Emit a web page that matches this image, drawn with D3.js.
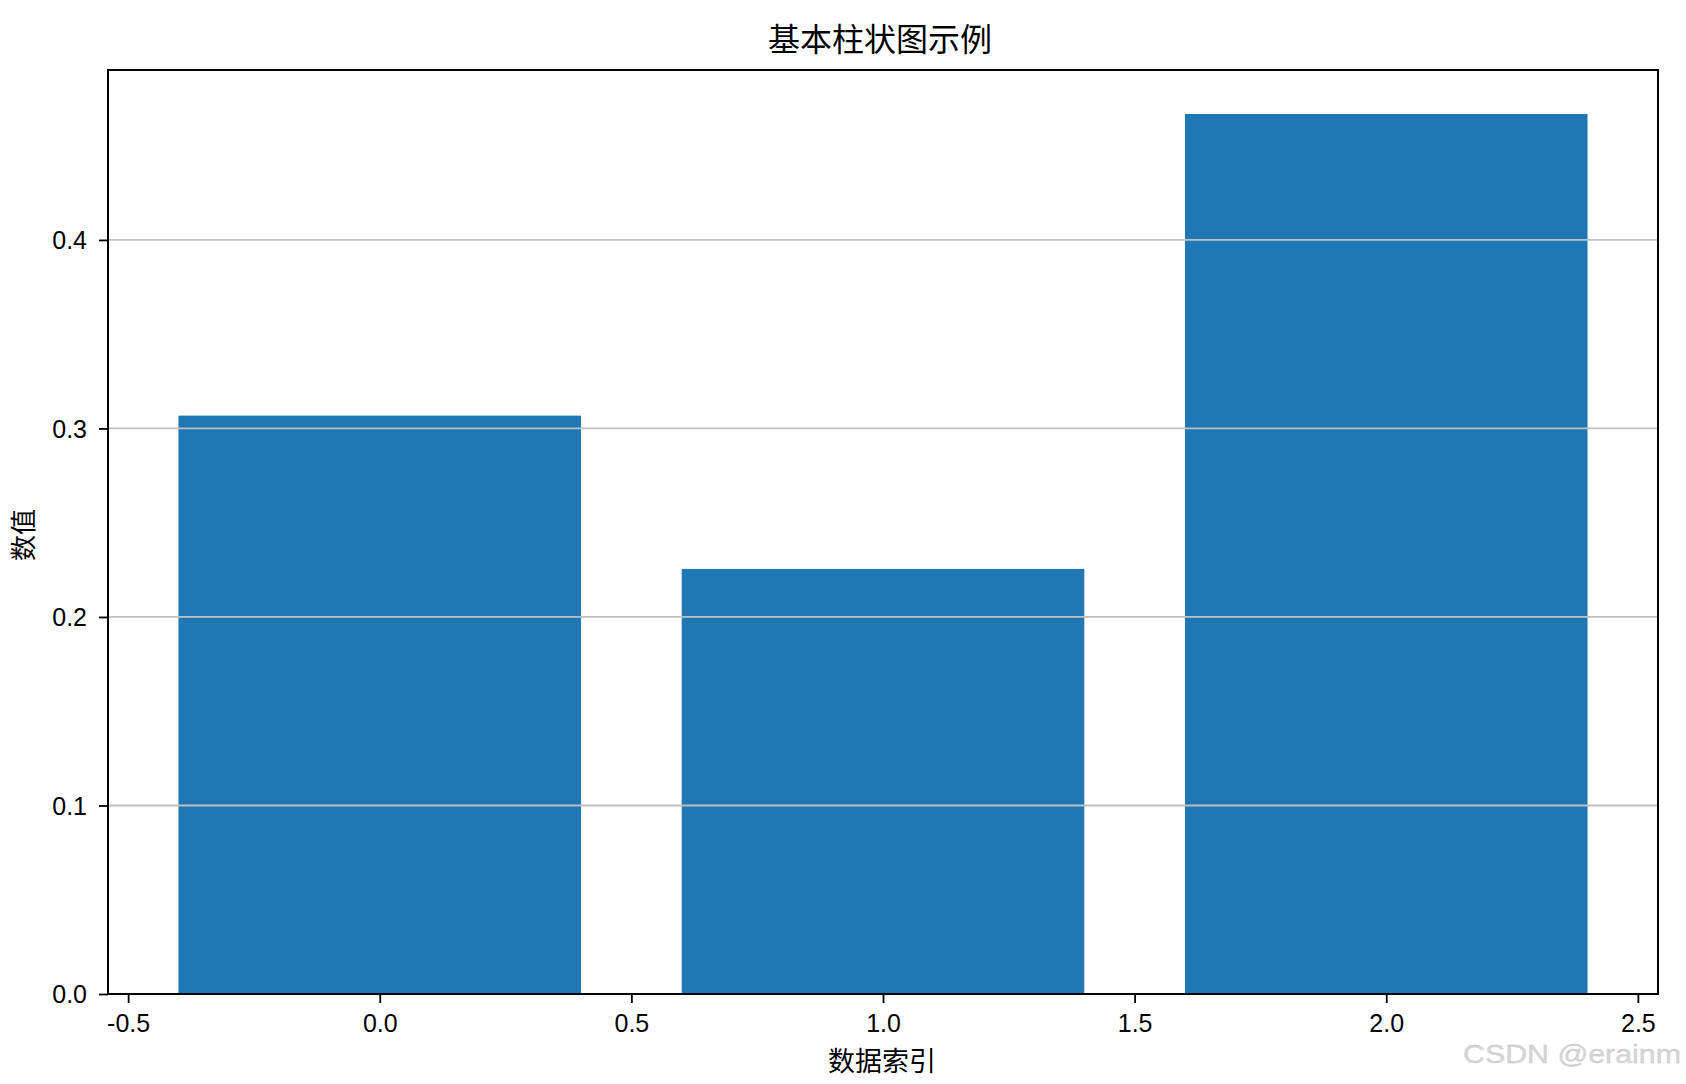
<!DOCTYPE html>
<html>
<head>
<meta charset="utf-8">
<script src="https://cdn.jsdelivr.net/npm/d3@7/dist/d3.min.js"></script>
<style>
  html, body { margin: 0; padding: 0; background: #ffffff; }
  svg { display: block; }
</style>
</head>
<body>
<script>
// ---- data ----
const categories = [0, 1, 2];
const values = [0.3068, 0.2255, 0.4668];
const xTicks = [-0.5, 0.0, 0.5, 1.0, 1.5, 2.0, 2.5];
const yTicks = [0.0, 0.1, 0.2, 0.3, 0.4];
const titleText = "基本柱状图示例";
const xLabel = "数据索引";
const yLabel = "数值";
const watermark = "CSDN @erainm";

(function () {
const W = 1686, H = 1084;
const pLeft = 108, pRight = 1658, pTop = 70, pBottom = 994;
const barWidth = 0.8;

const svg = d3.select("body").append("svg")
  .attr("width", W).attr("height", H);

const x = d3.scaleLinear()
  .domain([-barWidth / 2 - 0.14, categories[categories.length - 1] + barWidth / 2 + 0.14])
  .range([pLeft, pRight]);
const y = d3.scaleLinear()
  .domain([0, d3.max(values) * 1.05])
  .range([pBottom, pTop]);

const latin = "'Liberation Sans', Arial, sans-serif";
const cjk = "'Noto Sans CJK SC', 'Noto Sans', sans-serif";

// bars
svg.append("g").selectAll("rect")
  .data(categories)
  .join("rect")
  .attr("x", d => x(d - barWidth / 2))
  .attr("width", d => x(d + barWidth / 2) - x(d - barWidth / 2))
  .attr("y", (d, i) => y(values[i]))
  .attr("height", (d, i) => y(0) - y(values[i]))
  .attr("fill", "#1f77b4");

// horizontal grid (drawn above bars, as in matplotlib)
svg.append("g").selectAll("line")
  .data(yTicks)
  .join("line")
  .attr("x1", pLeft).attr("x2", pRight)
  .attr("y1", d => y(d)).attr("y2", d => y(d))
  .attr("stroke", "#c0c0c0")
  .attr("stroke-width", 1.8);

// axes
const fmt = d => d.toFixed(1);
const xAxis = svg.append("g")
  .attr("transform", `translate(0,${pBottom})`)
  .call(d3.axisBottom(x).tickValues(xTicks).tickFormat(fmt).tickSize(9).tickPadding(9).tickSizeOuter(0));
const yAxis = svg.append("g")
  .attr("transform", `translate(${pLeft},0)`)
  .call(d3.axisLeft(y).tickValues(yTicks).tickFormat(fmt).tickSize(9).tickPadding(12).tickSizeOuter(0));

[xAxis, yAxis].forEach(g => {
  g.select(".domain").remove();
  g.selectAll(".tick line").attr("stroke", "#000").attr("stroke-width", 1.8);
  g.selectAll(".tick text")
    .attr("fill", "#000")
    .style("font-family", latin)
    .style("font-size", "25px");
});
xAxis.selectAll(".tick text").attr("dy", null).attr("y", 38);
yAxis.selectAll(".tick text").attr("dy", "0.35em");

// frame (spines)
svg.append("rect")
  .attr("x", pLeft).attr("y", pTop)
  .attr("width", pRight - pLeft).attr("height", pBottom - pTop)
  .attr("fill", "none")
  .attr("stroke", "#000")
  .attr("stroke-width", 2);

// title
svg.append("text")
  .attr("x", (pLeft + pRight) / 2 - 3)
  .attr("y", 51)
  .attr("text-anchor", "middle")
  .style("font-family", cjk)
  .style("font-size", "32px")
  .attr("fill", "#000")
  .text(titleText);

// x label
svg.append("text")
  .attr("x", (pLeft + pRight) / 2 - 1)
  .attr("y", 1071)
  .attr("text-anchor", "middle")
  .style("font-family", cjk)
  .style("font-size", "27px")
  .attr("fill", "#000")
  .text(xLabel);

// y label
svg.append("text")
  .attr("transform", `translate(33,${(pTop + pBottom) / 2 + 3}) rotate(-90)`)
  .attr("text-anchor", "middle")
  .style("font-family", cjk)
  .style("font-size", "26px")
  .attr("fill", "#000")
  .text(yLabel);

// watermark
svg.append("text")
  .attr("x", 1463)
  .attr("y", 1063)
  .attr("textLength", 218)
  .attr("lengthAdjust", "spacingAndGlyphs")
  .style("font-family", latin)
  .style("font-size", "25px")
  .attr("fill", "#d6d6d6")
  .attr("stroke", "#c4c4c4")
  .attr("stroke-width", 0.3)
  .text(watermark);
})();
</script>
</body>
</html>
